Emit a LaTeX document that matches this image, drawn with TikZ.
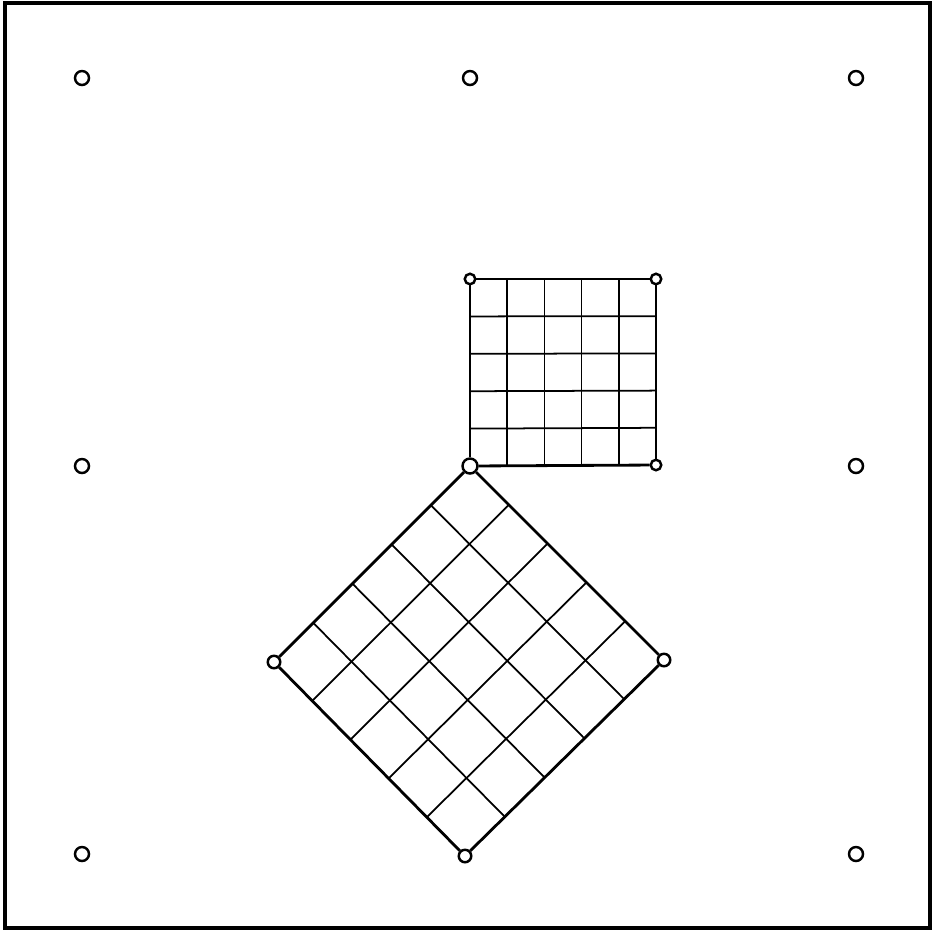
\documentclass[tikz,border=0pt]{standalone}
\usetikzlibrary{calc}
\tikzset{
  pin/.style={circle, draw, fill=white, line width=1.4pt, inner sep=0pt, minimum size=0.28cm},
  smallpin/.style={pin, minimum size=0.21cm},
  midpin/.style={pin, minimum size=0.25cm},
  bigpin/.style={pin, minimum size=0.3cm},
  edge/.style={line width=1.6pt},
  gridline/.style={line width=1pt}
}
\begin{document}
\begin{tikzpicture}[x=0.02cm, y=-0.02cm]
  \useasboundingbox (0,0) rectangle (934,931);

  % Frame
  \draw[line width=2.2pt] (5,3) rectangle (930,928);

  % Pins of the board
  \foreach \n/\x/\y in {11/82/78, 21/470/78, 31/856/78, 12/82/466, 32/856/466, 13/82/854, 33/856/854}
  {\node[pin] (p\n) at (\x,\y) {};}
  \node[bigpin] (p22) at (470,466) {};
  \node[midpin] (p23) at (465,856) {};

  % Small square corners
  \node[smallpin] (sA) at (470,279) {};
  \node[smallpin] (sB) at (656,279) {};
  \node[smallpin] (sC) at (656,465) {};

  % Diamond corners
  \node[midpin] (dL) at (274,662) {};
  \node[midpin] (dR) at (664,660) {};

  % Grid of the small square
  \foreach \k in {1,...,4}
  {\draw[gridline] ($(sA)!\k/5!(sB)$) -- ($(p22)!\k/5!(sC)$);
   \draw[gridline] ($(sA)!\k/5!(p22)$) -- ($(sB)!\k/5!(sC)$);}

  % Grid of the diamond
  \foreach \k in {1,...,4}
  {\draw[gridline] ($(p22)!\k/5!(dR)$) -- ($(dL)!\k/5!(p23)$);
   \draw[gridline] ($(p22)!\k/5!(dL)$) -- ($(dR)!\k/5!(p23)$);}

  \draw[edge] (sA) -- (sB);
  \draw[edge] (sB) -- (sC);
  \draw[edge] (sC) -- (p22);
  \draw[edge] (p22) -- (sA);

  \draw[edge] (p22) -- (dR);
  \draw[edge] (dR) -- (p23);
  \draw[edge] (p23) -- (dL);
  \draw[edge] (dL) -- (p22);
\end{tikzpicture}
\end{document}
